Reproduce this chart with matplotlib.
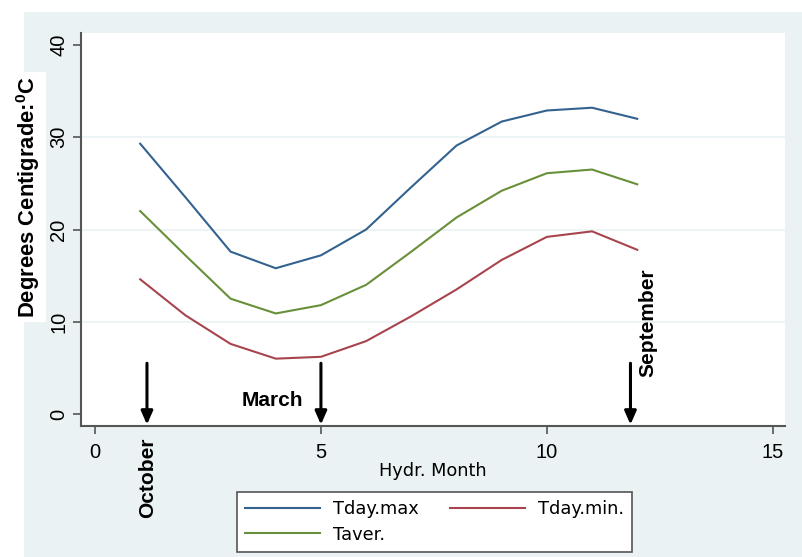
import numpy as np
import matplotlib.pyplot as plt
from matplotlib.patches import Rectangle

plt.rcParams['font.family'] = ['Liberation Sans', 'DejaVu Sans']
plt.rcParams['mathtext.fontset'] = 'custom'
plt.rcParams['mathtext.rm'] = 'Liberation Sans'
plt.rcParams['mathtext.bf'] = 'Liberation Sans:bold'

# monthly temperatures over the hydrological year (Oct = 1)
months = np.arange(1, 13)
tday_max = [29.3, 23.5, 17.6, 15.8, 17.2, 20.0, 24.6, 29.1, 31.7, 32.9, 33.2, 32.0]
tday_min = [14.6, 10.7, 7.6, 6.0, 6.2, 7.9, 10.6, 13.5, 16.7, 19.2, 19.8, 17.8]
taver = [22.0, 17.2, 12.5, 10.9, 11.8, 14.0, 17.6, 21.3, 24.2, 26.1, 26.5, 24.9]

# marker arrows: (label, x position)
marks = [('October', 1.15), ('March', 5.0), ('September', 11.85)]

yticks = [0, 10, 20, 30, 40]
xticks = [0, 5, 10, 15]

bg = '#eaf2f3'
c_max = '#33628f'
c_min = '#a8444e'
c_av = '#68903a'

fig = plt.figure(figsize=(8.03, 5.57), dpi=100, facecolor='white')
fig.patches.append(Rectangle((24 / 803, 0), 1 - 24 / 803, 1 - 12 / 557,
                             transform=fig.transFigure, facecolor=bg,
                             edgecolor='none', zorder=-10))

ax = fig.add_axes([81 / 803, 1 - 426 / 557, 704 / 803, 393 / 557])
ax.set_facecolor('white')

l1, = ax.plot(months, tday_max, color=c_max, lw=1.5, label='Tday.max')
l2, = ax.plot(months, tday_min, color=c_min, lw=1.5, label='Tday.min.')
l3, = ax.plot(months, taver, color=c_av, lw=1.5, label='Taver.')

ax.set_xlim(-0.31, 15.27)
ax.set_ylim(-1.3, 41.3)
ax.set_yticks(yticks)
ax.set_xticks(xticks)
ax.set_yticklabels([str(v) for v in yticks], rotation=90, va='center')
ax.tick_params(axis='both', labelsize=14.5, length=6, width=1.2,
               color='#555555')
ax.tick_params(axis='y', pad=3)
ax.tick_params(axis='x', pad=6)
for g in yticks[1:-1]:
    ax.axhline(g, color=bg, lw=1.2, zorder=0)

for s in ['top', 'right']:
    ax.spines[s].set_visible(False)
for s in ['left', 'bottom']:
    ax.spines[s].set_color('#555555')
    ax.spines[s].set_linewidth(1.5)

# arrows pointing down at the axis
for name, xm in marks:
    ax.annotate('', xy=(xm, -1.15), xytext=(xm, 5.5),
                arrowprops=dict(arrowstyle='-|>,head_width=0.35,head_length=0.8',
                                color='black', lw=2.2, shrinkA=0, shrinkB=0))

ax.text(4.6, 1.45, 'March', fontsize=15, fontweight='bold', ha='right',
        va='center')
ax.text(12.23, 9.9, 'September', fontsize=15, fontweight='bold', rotation=90,
        ha='center', va='center')
ax.text(1.17, -2.5, 'October', fontsize=15, fontweight='bold', rotation=90,
        ha='center', va='top', clip_on=False)

ax.set_xlabel('Hydr. Month', fontsize=12.8, family='DejaVu Sans', labelpad=0)
fig.text(28 / 803, 1 - 197 / 557, r'Degrees Centigrade:$^{\mathbf{0}}$C',
         fontsize=15.8, fontweight='bold', rotation=90, ha='center',
         va='center',
         bbox=dict(boxstyle='square,pad=0.2', facecolor='white',
                   edgecolor='none'))

leg = fig.legend([l1, l3, l2], ['Tday.max', 'Taver.', 'Tday.min.'], ncol=2,
                 loc='center',
                 bbox_to_anchor=(237 / 803, 1 - 554 / 557, 395 / 803, 64 / 557),
                 mode='expand', borderaxespad=0, fancybox=False,
                 edgecolor='#555555', framealpha=1, handlelength=4.2,
                 handletextpad=0.75, columnspacing=1.9, labelspacing=0.4,
                 borderpad=0.45, prop={'family': 'DejaVu Sans', 'size': 12.8})
leg.get_frame().set_linewidth(1.2)

fig.savefig('out.png', dpi=100, facecolor='white')
